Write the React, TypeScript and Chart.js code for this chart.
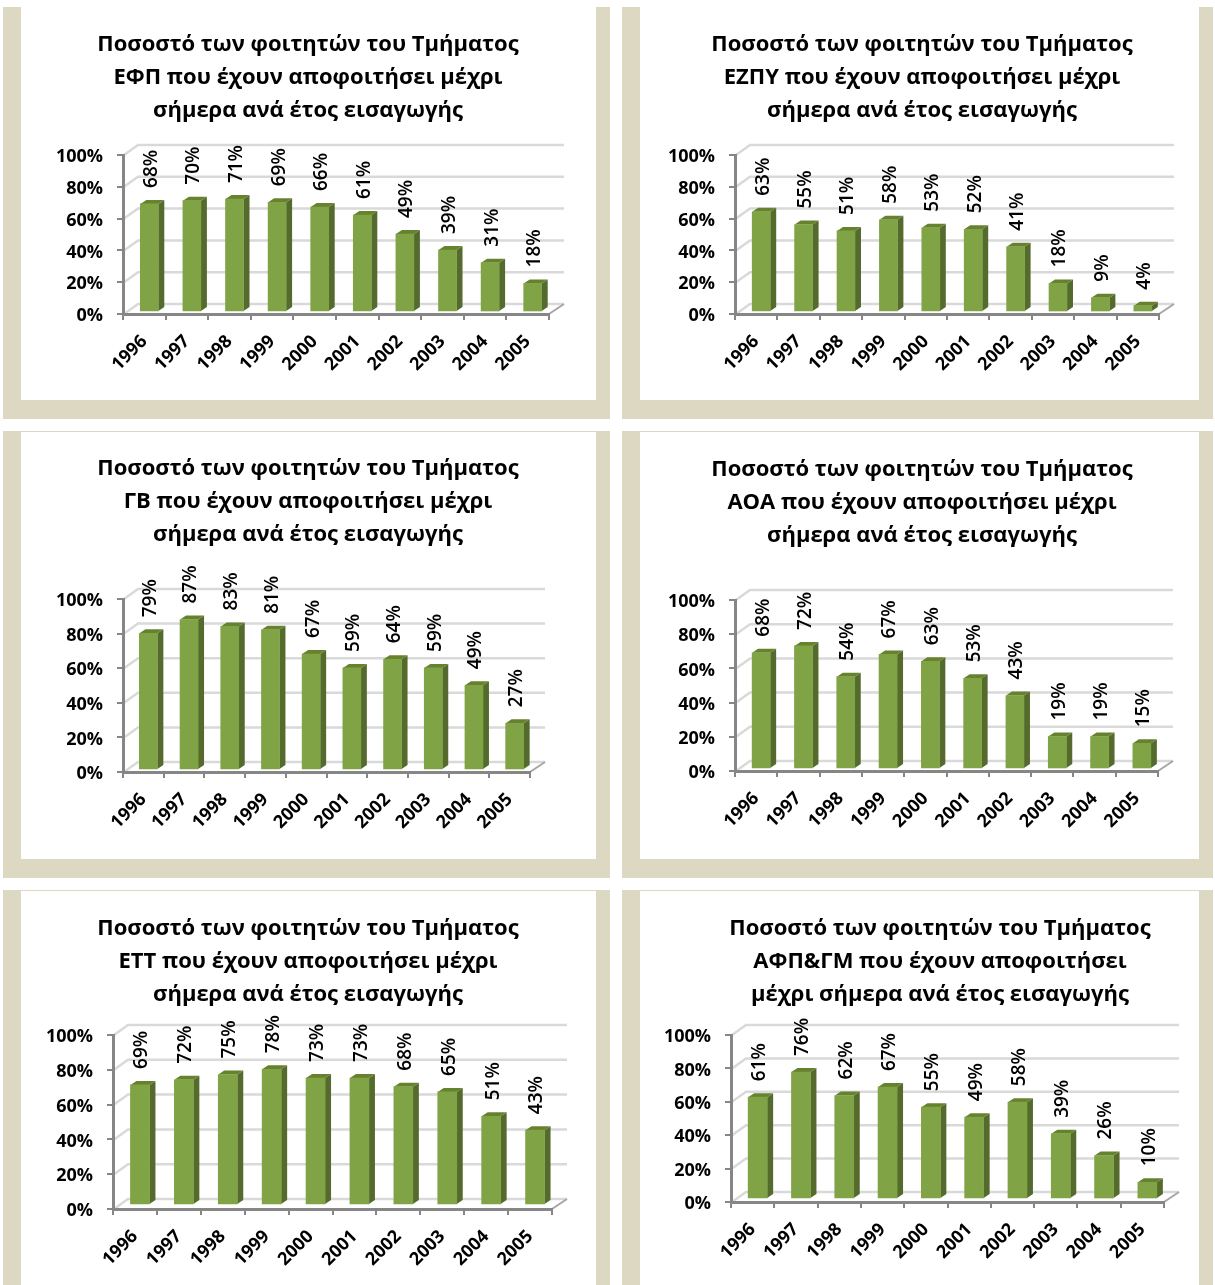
import React, { useEffect, useRef } from "react";
import { Chart, registerables } from "chart.js";

Chart.register(...registerables);

const categories = ["1996", "1997", "1998", "1999", "2000", "2001", "2002", "2003", "2004", "2005"];
const valuesEFP = [68, 70, 71, 69, 66, 61, 49, 39, 31, 18];
const valuesEZPY = [63, 55, 51, 58, 53, 52, 41, 18, 9, 4];
const valuesGB = [79, 87, 83, 81, 67, 59, 64, 59, 49, 27];
const valuesAOA = [68, 72, 54, 67, 63, 53, 43, 19, 19, 15];
const valuesETT = [69, 72, 75, 78, 73, 73, 68, 65, 51, 43];
const valuesAFP = [61, 76, 62, 67, 55, 49, 58, 39, 26, 10];
const yTicks = [0, 20, 40, 60, 80, 100];

const titleEFP = ["Ποσοστό των φοιτητών του Τμήματος", "ΕΦΠ που έχουν αποφοιτήσει μέχρι", "σήμερα ανά έτος εισαγωγής"];
const titleEZPY = ["Ποσοστό των φοιτητών του Τμήματος", "ΕΖΠΥ που έχουν αποφοιτήσει μέχρι", "σήμερα ανά έτος εισαγωγής"];
const titleGB = ["Ποσοστό των φοιτητών του Τμήματος", "ΓΒ που έχουν αποφοιτήσει μέχρι", "σήμερα ανά έτος εισαγωγής"];
const titleAOA = ["Ποσοστό των φοιτητών του Τμήματος", "ΑΟΑ που έχουν αποφοιτήσει μέχρι", "σήμερα ανά έτος εισαγωγής"];
const titleETT = ["Ποσοστό των φοιτητών του Τμήματος", "ΕΤΤ που έχουν αποφοιτήσει μέχρι", "σήμερα ανά έτος εισαγωγής"];
const titleAFP = ["Ποσοστό των φοιτητών του Τμήματος", "ΑΦΠ&ΓΜ που έχουν αποφοιτήσει", "μέχρι σήμερα ανά έτος εισαγωγής"];

const FONT = "'Open Sans', 'Noto Sans', sans-serif";
const BEIGE = "#DDD8C2";
const AXIS = "#868686";
const WALL = "#D9D9D9";
const W = 560;

type Panel = {
  title: string[]; values: number[];
  cx: number; title1: number; left: number; right: number; top: number; zero: number;
  canvasTop: number; canvasBottom: number; barW: number; lift: number;
};

const panels: Panel[] = [
  { title: titleEFP, values: valuesEFP, cx: 308, title1: 45, left: 123, right: 549, top: 155, zero: 314, canvasTop: 7, canvasBottom: 400, barW: 18, lift: 2 },
  { title: titleEZPY, values: valuesEZPY, cx: 922, title1: 45, left: 735, right: 1159, top: 155, zero: 314, canvasTop: 7, canvasBottom: 400, barW: 18, lift: 2 },
  { title: titleGB, values: valuesGB, cx: 308, title1: 469, left: 123, right: 530, top: 599, zero: 772, canvasTop: 432, canvasBottom: 859, barW: 18, lift: 2 },
  { title: titleAOA, values: valuesAOA, cx: 922, title1: 470, left: 735, right: 1158, top: 600, zero: 771, canvasTop: 432, canvasBottom: 859, barW: 18, lift: 2 },
  { title: titleETT, values: valuesETT, cx: 308, title1: 929, left: 113, right: 552, top: 1035, zero: 1209, canvasTop: 891, canvasBottom: 1285, barW: 19, lift: 4 },
  { title: titleAFP, values: valuesAFP, cx: 940, title1: 929, left: 731, right: 1164, top: 1035, zero: 1202, canvasTop: 891, canvasBottom: 1285, barW: 19, lift: 3 },
];

const frames = [
  { x: 3, y: 7, w: 607, h: 412, ix: 21, iw: 575, ih: 393, line: false },
  { x: 622, y: 7, w: 591, h: 412, ix: 640, iw: 559, ih: 393, line: false },
  { x: 3, y: 431, w: 607, h: 447, ix: 21, iw: 575, ih: 428, line: true },
  { x: 622, y: 431, w: 591, h: 447, ix: 640, iw: 559, ih: 428, line: true },
  { x: 3, y: 890, w: 607, h: 395, ix: 21, iw: 575, ih: 395, line: true },
  { x: 622, y: 890, w: 591, h: 395, ix: 640, iw: 559, ih: 395, line: true },
];

const DX = 15, DY = 10, BAR_SHIFT = 5, SIDE_X = 6, SIDE_Y = 4;

function ChartPanel({ p }: { p: Panel }) {
  const ref = useRef<HTMLCanvasElement>(null);
  useEffect(() => {
    const canvasX = p.cx - W / 2;
    const lineH = 33;
    const firstTop = p.title1 - lineH / 2 - p.canvasTop;
    const tBottom = p.top - p.canvasTop - firstTop - 3 * lineH;
    const rightPad = canvasX + W - p.right;

    const wallPlugin = {
      id: "wall3d",
      beforeDraw(chart: any) {
        const { ctx, chartArea: a, scales } = chart;
        const y = scales.y;
        ctx.save();
        ctx.strokeStyle = WALL;
        ctx.lineWidth = 2.5;
        for (const t of yTicks) {
          const py = y.getPixelForValue(t);
          ctx.beginPath();
          ctx.moveTo(a.left + 1, py);
          ctx.lineTo(a.left + DX, py - DY);
          ctx.lineTo(a.right + DX, py - DY);
          ctx.stroke();
        }
        ctx.strokeStyle = "#A6A6A6";
        ctx.lineWidth = 2;
        ctx.beginPath();
        ctx.moveTo(a.right, a.bottom);
        ctx.lineTo(a.right + DX, a.bottom - DY);
        ctx.stroke();
        ctx.restore();
      },
      beforeDatasetsDraw(chart: any) {
        const { ctx } = chart;
        ctx.save();
        ctx.translate(BAR_SHIFT, -p.lift);
        for (const b of chart.getDatasetMeta(0).data) {
          const l = b.x - b.width / 2, r = b.x + b.width / 2;
          ctx.fillStyle = "#546B2D";
          ctx.beginPath();
          ctx.moveTo(r, b.y);
          ctx.lineTo(r + SIDE_X, b.y - SIDE_Y);
          ctx.lineTo(r + SIDE_X, b.base - SIDE_Y);
          ctx.lineTo(r, b.base);
          ctx.closePath();
          ctx.fill();
          ctx.fillStyle = "#66822F";
          ctx.beginPath();
          ctx.moveTo(l, b.y);
          ctx.lineTo(l + SIDE_X, b.y - SIDE_Y);
          ctx.lineTo(r + SIDE_X, b.y - SIDE_Y);
          ctx.lineTo(r, b.y);
          ctx.closePath();
          ctx.fill();
        }
      },
      afterDatasetsDraw(chart: any) {
        const { ctx } = chart;
        ctx.restore();
        ctx.save();
        ctx.fillStyle = "#000";
        ctx.font = `600 19px ${FONT}`;
        ctx.textAlign = "left";
        ctx.textBaseline = "middle";
        chart.getDatasetMeta(0).data.forEach((b: any, i: number) => {
          ctx.save();
          ctx.translate(b.x + BAR_SHIFT + 2, b.y - 16 - p.lift);
          ctx.rotate(-Math.PI / 2);
          ctx.fillText(`${p.values[i]}%`, 0, 0);
          ctx.restore();
        });
        ctx.restore();
      },
    };

    const chart = new Chart(ref.current as HTMLCanvasElement, {
      type: "bar",
      data: {
        labels: categories,
        datasets: [{ data: p.values, backgroundColor: "#80A445", barThickness: p.barW, clip: false } as any],
      },
      options: {
        animation: false,
        responsive: false,
        layout: { padding: 0 },
        plugins: {
          legend: { display: false },
          tooltip: { enabled: false },
          title: {
            display: true,
            text: p.title,
            color: "#000",
            font: { family: FONT, size: 22, weight: "bold", lineHeight: lineH / 22 },
            padding: { top: firstTop, bottom: tBottom },
          },
        },
        scales: {
          x: {
            grid: { offset: true, drawOnChartArea: false, tickLength: 6, color: AXIS, lineWidth: 2 },
            border: { color: AXIS, width: 3 },
            ticks: { color: "#000", font: { family: FONT, size: 18, weight: "bold" }, maxRotation: 45, minRotation: 45, autoSkip: false, padding: 11 },
            afterFit(s: any) { s.height = p.canvasBottom - p.zero; },
          },
          y: {
            min: 0, max: 100,
            afterBuildTicks(s: any) { s.ticks = yTicks.map((value) => ({ value })); },
            grid: { drawOnChartArea: false, tickLength: 6, color: AXIS, lineWidth: 2 },
            border: { color: AXIS, width: 3 },
            ticks: { color: "#000", font: { family: FONT, size: 18, weight: "bold" }, padding: 14, labelOffset: 2, callback: (v: any) => `${v}%` },
            afterFit(s: any) { s.width = p.left - canvasX; },
          },
          yRightSpacer: {
            position: "right",
            min: 0, max: 100,
            grid: { drawOnChartArea: false, drawTicks: false },
            border: { display: false },
            ticks: { display: false },
            afterFit(s: any) { s.width = rightPad; },
          },
        },
      } as any,
      plugins: [wallPlugin],
    });
    return () => chart.destroy();
  }, [p]);
  const H = p.canvasBottom - p.canvasTop;
  return (
    <canvas
      ref={ref}
      width={W}
      height={H}
      style={{ position: "absolute", left: p.cx - W / 2, top: p.canvasTop, width: W, height: H, display: "block" }}
    />
  );
}

export default function App() {
  return (
    <div style={{ position: "absolute", left: 0, top: 0, width: 1215, height: 1285, overflow: "hidden", background: "#fff" }}>
      {frames.map((f, i) => (
        <React.Fragment key={i}>
          <div style={{ position: "absolute", left: f.x, top: f.y, width: f.w, height: f.h, background: BEIGE }} />
          <div style={{ position: "absolute", left: f.ix, top: f.y + (f.line ? 1 : 0), width: f.iw, height: f.ih - (f.line ? 1 : 0), background: "#fff" }} />
        </React.Fragment>
      ))}
      {panels.map((p, i) => <ChartPanel key={i} p={p} />)}
    </div>
  );
}
